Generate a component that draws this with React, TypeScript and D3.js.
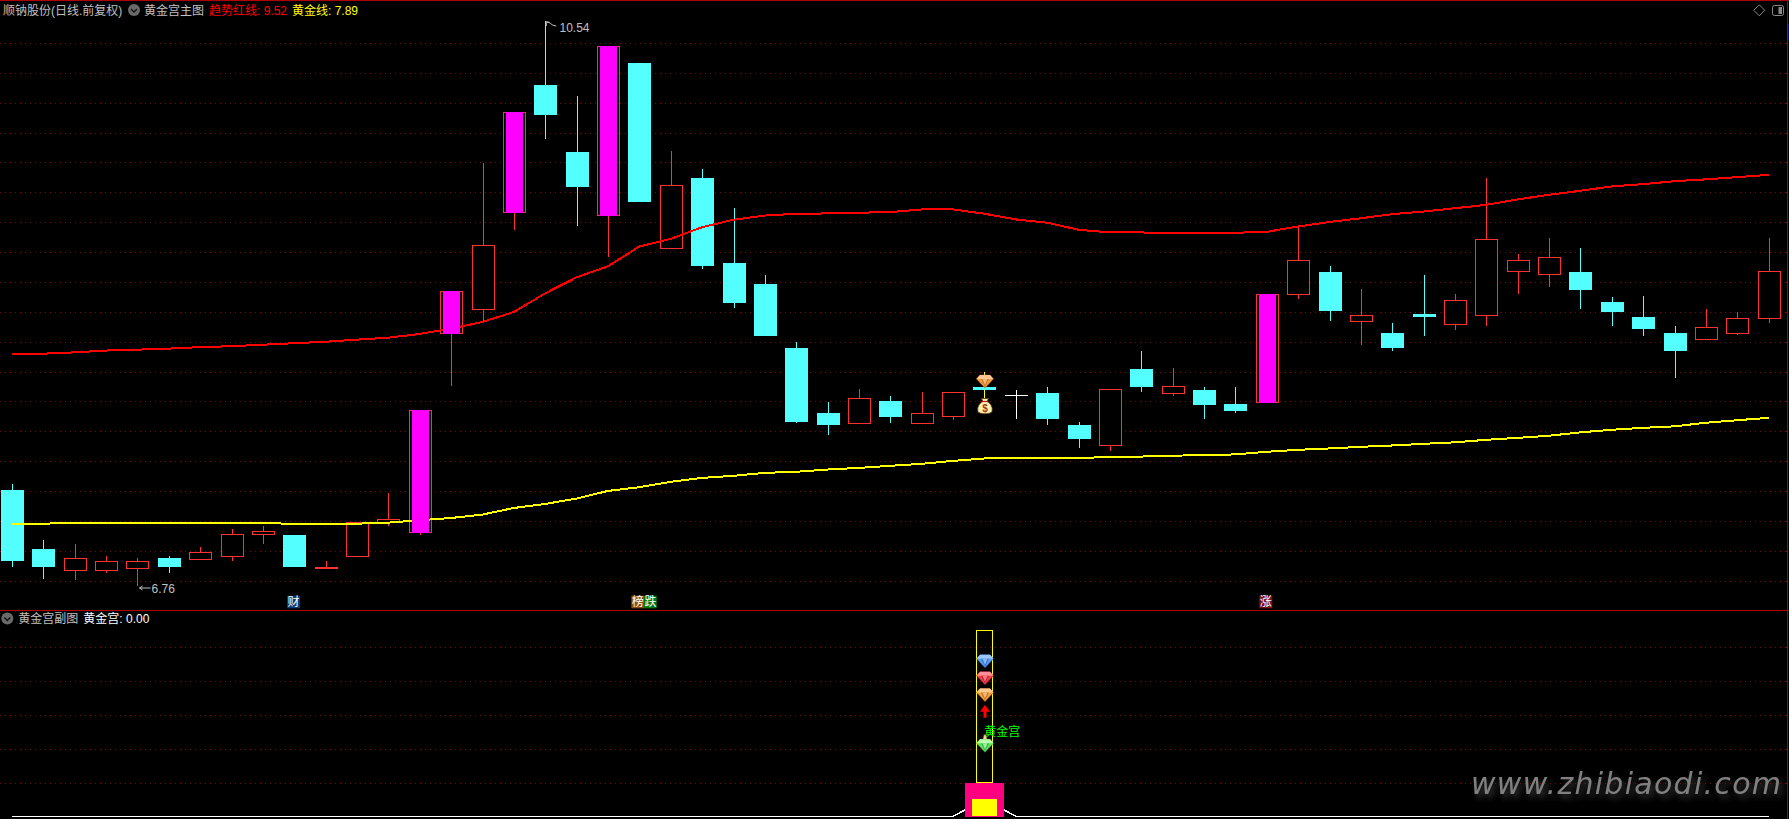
import React from "react";
import * as d3 from "d3";

const opens = [7.40,7.01,6.87,6.87,6.88,6.95,6.94,6.96,7.11,7.10,6.88,6.96,7.19,7.12,8.45,8.61,9.26,10.11,9.66,9.24,10.26,9.02,9.49,8.92,8.78,8.35,7.92,7.85,8.00,7.85,7.90,8.09,8.04,8.05,7.84,7.70,8.21,8.05,8.07,7.98,7.99,8.71,8.86,8.53,8.45,8.58,8.51,8.57,8.87,8.85,8.86,8.66,8.56,8.45,8.41,8.45,8.55];
const closes = [6.93,6.89,6.95,6.93,6.93,6.89,6.99,7.11,7.13,6.89,6.89,7.19,7.21,7.94,8.73,9.04,9.93,9.91,9.43,10.37,9.33,9.44,8.90,8.65,8.43,7.86,7.84,8.02,7.89,7.92,8.06,8.07,8.04,7.88,7.74,8.08,8.09,8.10,7.97,7.93,8.71,8.94,8.60,8.57,8.35,8.56,8.67,9.08,8.94,8.96,8.74,8.59,8.48,8.33,8.49,8.55,8.87];
const highs = [7.44,7.07,7.04,6.96,6.95,6.96,7.02,7.14,7.16,7.10,6.93,7.19,7.38,7.94,8.73,9.59,9.93,10.54,10.04,10.37,10.26,9.67,9.55,9.29,8.84,8.39,7.99,8.08,8.03,8.06,8.06,8.19,8.07,8.09,7.86,8.08,8.33,8.22,8.09,8.09,8.71,9.16,8.90,8.75,8.52,8.84,8.71,9.49,8.98,9.09,9.02,8.69,8.70,8.50,8.61,8.59,9.09];
const lows = [6.89,6.81,6.80,6.85,6.76,6.85,6.94,6.93,7.04,6.89,6.88,6.96,7.16,7.10,8.10,8.53,9.14,9.75,9.17,8.96,9.33,9.02,8.88,8.62,8.43,7.85,7.77,7.85,7.85,7.85,7.87,8.02,7.88,7.84,7.68,7.66,8.06,8.03,7.88,7.92,7.99,8.68,8.53,8.37,8.33,8.43,8.47,8.50,8.71,8.76,8.61,8.50,8.43,8.15,8.41,8.44,8.52];
const trendRed = [8.309,8.314,8.323,8.335,8.341,8.348,8.358,8.364,8.374,8.384,8.394,8.408,8.421,8.446,8.482,8.526,8.593,8.718,8.825,8.899,9.031,9.082,9.160,9.210,9.238,9.250,9.252,9.257,9.261,9.279,9.279,9.250,9.212,9.190,9.143,9.125,9.125,9.120,9.120,9.123,9.129,9.165,9.195,9.220,9.247,9.265,9.287,9.310,9.346,9.377,9.404,9.433,9.448,9.468,9.480,9.495,9.510];
const goldLine = [7.177,7.177,7.182,7.182,7.182,7.182,7.182,7.182,7.182,7.175,7.175,7.177,7.184,7.200,7.215,7.238,7.282,7.309,7.345,7.396,7.421,7.457,7.483,7.497,7.517,7.524,7.539,7.550,7.564,7.577,7.597,7.613,7.613,7.615,7.617,7.622,7.626,7.631,7.637,7.640,7.658,7.671,7.680,7.691,7.700,7.711,7.721,7.738,7.751,7.765,7.788,7.805,7.818,7.828,7.852,7.869,7.885];
const limitUpBars = [13,14,16,19,40];
const gridPrices = [10.395,10.194,9.993,9.792,9.598,9.397,9.196,8.995,8.794,8.593,8.392,8.191,7.997,7.796,7.595,7.394,7.193,6.992,6.791];
const subGridValues = [10,8,6,4,2];
const subLine = [0,0,0,0,0,0,0,0,0,0,0,0,0,0,0,0,0,0,0,0,0,0,0,0,0,0,0,0,0,0,0,1,0,0,0,0,0,0,0,0,0,0,0,0,0,0,0,0,0,0,0,0,0,0,0,0,0];
const signalBar = 31;
const stickTop = 11;
const pinkTop = 2;
const yellowTop = 1;
const blueGem = 9.2;
const redGem = 8.2;
const orangeGem = 7.2;
const arrowTip = 6.6;
const greenGem = 4.2;
const bottleAt = 4.65;
const subLabelAt = 5.0;
const CANDLE_BG = "#000";

const CJK = '"Liberation Sans","Noto Sans CJK SC",sans-serif';
const W = 1789, H = 819;
const x = d3.scaleLinear().domain([0, 56]).range([12, 1768.7]);
const y = d3.scaleLinear().domain([6.76, 10.54]).range([586, 20.9]);
const ySub = d3.scaleLinear().domain([0, 10]).range([816.3, 647.3]);

const lineMain = d3.line<number>().x((_, i) => x(i)).y((d) => y(d));
const lineSub = d3.line<number>().x((_, i) => x(i)).y((d) => ySub(d));

const CYAN = "#54ffff", RED = "#ff3232", GRID = "#7c0808";

function Gem({ cx, cy, base, light, dark }: { cx: number; cy: number; base: string; light: string; dark: string }) {
  return (
    <g transform={`translate(${cx},${cy})`}>
      <path d="M-5,-6 L5,-6 L8.5,-2 L0,7 L-8.5,-2 Z" fill={base} stroke={dark} strokeWidth={0.5} />
      <path d="M-5,-6 L5,-6 L8.5,-2 L-8.5,-2 Z" fill={light} />
      <path d="M-4,-2 L4,-2 L0,6 Z" fill={dark} opacity={0.55} />
      <path d="M-2.5,-2 L2.5,-2 L0,4 Z" fill={light} opacity={0.8} />
    </g>
  );
}

function Bag({ cx, cy }: { cx: number; cy: number }) {
  return (
    <g transform={`translate(${cx},${cy})`}>
      <path d="M-3.5,-8 L3.5,-8 L2,-5 C6,-3 8,1 7,5 C6,8 -6,8 -7,5 C-8,1 -6,-3 -2,-5 Z" fill="#fff0b0" stroke="#5a3a10" strokeWidth={0.8} />
      <path d="M-3,-5 L3,-5" stroke="#c02020" strokeWidth={1.2} />
      <text x={0} y={5} textAnchor="middle" fontSize={10} fontWeight={700} fontFamily={CJK} fill="#9a3a20">$</text>
    </g>
  );
}

function Chevron({ cx, cy }: { cx: number; cy: number }) {
  return (
    <g>
      <circle cx={cx} cy={cy} r={6} fill="#6a6a6a" />
      <path d={`M${cx - 3},${cy - 1} L${cx},${cy + 2} L${cx + 3},${cy - 1}`} fill="none" stroke="#111" strokeWidth={1.4} />
    </g>
  );
}

function Tag({ cx, cy, w, text, bg }: { cx: number; cy: number; w: number; text: string; bg: string }) {
  return (
    <g>
      <rect x={cx - w / 2} y={cy - 6.3} width={w} height={12.6} fill={bg} />
      <text x={cx} y={cy + 4.4} textAnchor="middle" fontSize={12} fontFamily={CJK} fill="#fff">{text}</text>
    </g>
  );
}

export default function App() {
  const snap = (v: number) => Math.round(v);
  const candleMarks = opens.map((o, i) => {
    const c = closes[i];
    const cx = snap(x(i));
    const top = y(Math.max(o, c));
    const bot = y(Math.min(o, c));
    const wx = cx + 0.5;
    const up = c > o;
    const doji = c === o;
    const color = doji ? "#fff" : up ? RED : CYAN;
    const wickColor = i === signalBar ? "#ffff00" : color;
    return (
      <g key={i}>
        <line x1={wx} x2={wx} y1={y(highs[i])} y2={top} stroke={wickColor} strokeWidth={1} />
        <line x1={wx} x2={wx} y1={bot} y2={y(lows[i])} stroke={wickColor} strokeWidth={1} />
        {doji ? (
          <line x1={cx - 11} x2={cx + 12} y1={snap(top) + 0.5} y2={snap(top) + 0.5} stroke={color} strokeWidth={1} />
        ) : up ? (
          <rect x={cx - 11 + 0.5} y={snap(top) + 0.5} width={22} height={Math.max(1, snap(bot) - snap(top))} fill={CANDLE_BG} stroke={color} strokeWidth={1} />
        ) : (
          <rect x={cx - 11} y={snap(top)} width={23} height={Math.max(2, snap(bot) - snap(top))} fill={color} />
        )}
      </g>
    );
  });

  return (
    <svg width={W} height={H} viewBox={`0 0 ${W} ${H}`} style={{ position: "fixed", left: 0, top: 0, display: "block", background: "#000" }}>
      <defs>
        <filter id="wm" x="-5%" y="-40%" width="110%" height="180%">
          <feGaussianBlur in="SourceAlpha" stdDeviation="3" result="b" />
          <feOffset in="b" dx="3" dy="4" result="o" />
          <feFlood floodColor="#3a3a3a" />
          <feComposite in2="o" operator="in" result="s" />
          <feMerge>
            <feMergeNode in="s" />
            <feMergeNode in="SourceGraphic" />
          </feMerge>
        </filter>
      </defs>
      <rect width={W} height={H} fill="#000" />

      {/* grids */}
      <g shapeRendering="crispEdges">
        {gridPrices.map((p) => (
          <line key={p} x1={0} x2={1787} y1={snap(y(p)) + 0.5} y2={snap(y(p)) + 0.5} stroke={GRID} strokeWidth={1} strokeDasharray="1 4" />
        ))}
        {subGridValues.map((v) => (
          <line key={v} x1={0} x2={1787} y1={snap(ySub(v)) + 0.5} y2={snap(ySub(v)) + 0.5} stroke={GRID} strokeWidth={1} strokeDasharray="1 4" />
        ))}
        {gridPrices.map((p) => (
          <line key={"t" + p} x1={1785} x2={1787} y1={snap(y(p)) + 0.5} y2={snap(y(p)) + 0.5} stroke="#a00000" />
        ))}
        {subGridValues.map((v) => (
          <line key={"t" + v} x1={1785} x2={1787} y1={snap(ySub(v)) + 0.5} y2={snap(ySub(v)) + 0.5} stroke="#a00000" />
        ))}
        <rect x={0} y={0} width={W} height={1} fill="#b00000" />
        <rect x={0} y={610} width={W} height={1} fill="#b00000" />
        <rect x={1787} y={0} width={1} height={H} fill="#b00000" />
        <rect x={1788} y={24} width={1} height={16} fill="#0000c0" />
      </g>

      {/* watermark */}
      <text x={1471} y={794} fontSize={30} fontStyle="italic" fontFamily="DejaVu Sans" textLength={310} fill="#808080" filter="url(#wm)">www.zhibiaodi.com</text>

      {/* candles */}
      <g shapeRendering="crispEdges">{candleMarks}</g>

      {/* lines */}
      <path d={lineMain(trendRed) ?? ""} fill="none" stroke="#ff0000" strokeWidth={2} shapeRendering="crispEdges" />
      <path d={lineMain(goldLine) ?? ""} fill="none" stroke="#ffff00" strokeWidth={2} shapeRendering="crispEdges" />

      {/* limit-up fill */}
      <g shapeRendering="crispEdges">
        {limitUpBars.map((i) => {
          const cx = snap(x(i));
          const top = snap(y(closes[i]));
          const bot = snap(y(opens[i]));
          return <rect key={i} x={cx - 8} y={top} width={17} height={bot - top + 1} fill="#ff00ff" />;
        })}
      </g>

      {/* extremes */}
      <g fontFamily={CJK} fontSize={12} fill="#c0c0c0">
        <path d={`M${x(17) + 1},22 L${x(17) + 5},23 L${x(17) + 7},25 L${x(17) + 11},26`} fill="none" stroke="#c0c0c0" />
        <path d={`M${x(17) + 1},22 L${x(17) + 1},26 M${x(17) + 1},22 L${x(17) + 4},22`} fill="none" stroke="#c0c0c0" />
        <text x={559.5} y={32}>10.54</text>
        <path d={`M${x(4) + 2},588 L${x(4) + 13},588 M${x(4) + 2},588 L${x(4) + 5},586 M${x(4) + 2},588 L${x(4) + 5},590`} fill="none" stroke="#c0c0c0" />
        <text x={151.5} y={593}>6.76</text>
      </g>

      {/* signal icons, main */}
      <rect x={snap(x(signalBar)) - 11} y={snap(y(closes[signalBar])) - 3} width={23} height={3} fill={CYAN} shapeRendering="crispEdges" />
      <Gem cx={x(signalBar) + 0.5} cy={381} base="#f0a040" light="#ffc890" dark="#b05010" />
      <Bag cx={x(signalBar) + 0.5} cy={406.5} />

      {/* bottom tags */}
      <Tag cx={x(9) - 0.8} cy={602} w={13} text="财" bg="#0a3a70" />
      <Tag cx={x(20) - 1.7} cy={602} w={12.7} text="榜" bg="#8a4a10" />
      <Tag cx={x(20) + 11} cy={602} w={12.7} text="跌" bg="#007a10" />
      <Tag cx={x(40) - 1} cy={602} w={13} text="涨" bg="#7a1010" />

      {/* sub chart */}
      <path d={lineSub(subLine) ?? ""} fill="none" stroke="#fff" strokeWidth={1.5} shapeRendering="crispEdges" />
      <g shapeRendering="crispEdges">
        <rect x={976.5} y={snap(ySub(stickTop)) + 0.5} width={16} height={ySub(pinkTop) - ySub(stickTop)} fill="none" stroke="#ffff00" strokeWidth={1} />
        <rect x={965} y={snap(ySub(pinkTop))} width={39} height={ySub(0) - ySub(pinkTop)} fill="#ff0080" />
        <rect x={972} y={snap(ySub(yellowTop))} width={25} height={ySub(0) - ySub(yellowTop)} fill="#ffff00" />
      </g>
      <Gem cx={985} cy={ySub(blueGem)} base="#5a9cf0" light="#9cc8ff" dark="#2050b0" />
      <Gem cx={985} cy={ySub(redGem)} base="#f04050" light="#ff9098" dark="#a01020" />
      <Gem cx={985} cy={ySub(orangeGem)} base="#f0a040" light="#ffc890" dark="#b05010" />
      <path d={`M985,${ySub(arrowTip)} L990,${ySub(arrowTip) + 7} L986.5,${ySub(arrowTip) + 7} L986.5,${ySub(arrowTip) + 13} L983.5,${ySub(arrowTip) + 13} L983.5,${ySub(arrowTip) + 7} L980,${ySub(arrowTip) + 7} Z`} fill="#ff0000" />
      <path d={`M982,${ySub(bottleAt) + 5} L988,${ySub(bottleAt) + 5} L986,${ySub(bottleAt) - 3} L984,${ySub(bottleAt) - 3} Z`} fill="#ffd890" stroke="#6a4a20" strokeWidth={0.6} />
      <Gem cx={985} cy={ySub(greenGem)} base="#60e060" light="#b8ffb0" dark="#209030" />
      <text x={984.3} y={ySub(subLabelAt) + 4.5} fontSize={12} fontFamily={CJK} fill="#00ff00">黄金宫</text>

      {/* headers */}
      <g fontFamily={CJK} fontSize={12}>
        <text x={3} y={14.5} fill="#c0c0c0">顺钠股份(日线.前复权)</text>
        <Chevron cx={134} cy={10} />
        <text x={144} y={14.5} fill="#c0c0c0">黄金宫主图</text>
        <text x={209} y={14.5} fill="#ff0000">趋势红线: {(trendRed[trendRed.length - 1] + 0.01).toFixed(2)}</text>
        <text x={292} y={14.5} fill="#ffff00">黄金线: {(goldLine[goldLine.length - 1] + 0.005).toFixed(2)}</text>
        <Chevron cx={7.3} cy={618.6} />
        <text x={18.3} y={623} fill="#c0c0c0">黄金宫副图</text>
        <text x={83.3} y={623} fill="#fff">黄金宫: {subLine[subLine.length - 1].toFixed(2)}</text>
      </g>

      {/* top-right controls */}
      <path d="M1759.3,4.8 L1764.8,10.3 L1759.3,15.8 L1753.8,10.3 Z" fill="none" stroke="#8a8a8a" strokeWidth={1} />
      <rect x={1772.5} y={5.5} width={11} height={10} rx={2} fill="none" stroke="#8a8a8a" strokeWidth={1} />
      <rect x={1778.5} y={7} width={3.5} height={7} fill="#8a8a8a" />
    </svg>
  );
}
